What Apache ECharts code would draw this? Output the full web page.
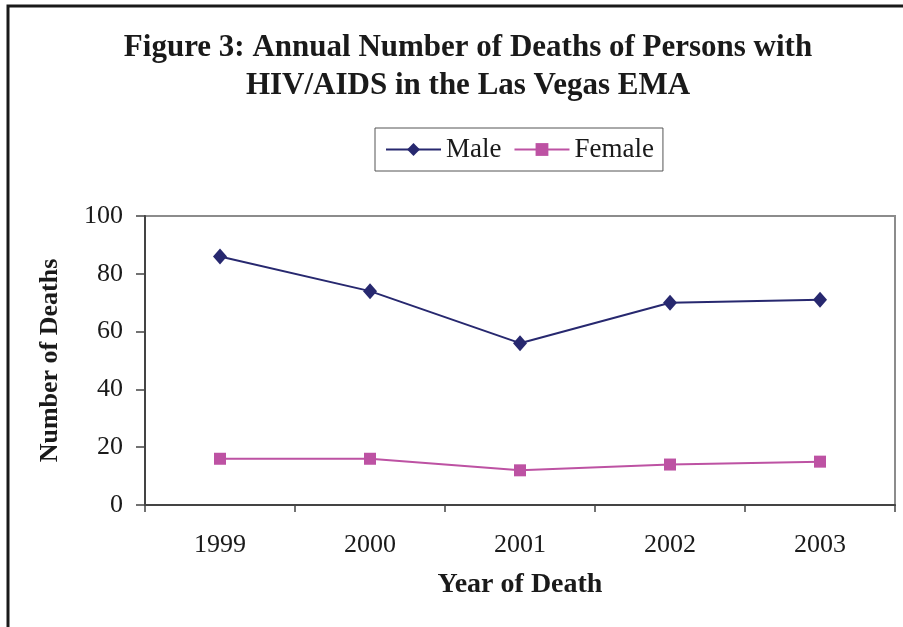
<!DOCTYPE html>
<html>
<head>
<meta charset="utf-8">
<title>Annual Number of Deaths of Persons with HIV/AIDS in the Las Vegas EMA</title>
<script src="https://cdn.jsdelivr.net/npm/echarts@6/dist/echarts.min.js"></script>
<style>
  html, body { margin: 0; padding: 0; background: #ffffff; }
  #chart { width: 903px; height: 627px; }
</style>
</head>
<body>
<div id="chart"></div>
<script>
// Years of death (category axis)
const years = ['1999', '2000', '2001', '2002', '2003'];
// Annual deaths by sex
const maleDeaths = [86, 74, 56, 70, 71];
const femaleDeaths = [16, 16, 12, 14, 15];
// Value axis ticks
const yTicks = [0, 20, 40, 60, 80, 100];

const serif = '"Liberation Serif", "Times New Roman", serif';
const maleColor = '#27286f';
const femaleColor = '#bd52a3';

const chart = echarts.init(document.getElementById('chart'), null, { renderer: 'canvas' });

chart.setOption({
  backgroundColor: '#ffffff',
  animation: false,
  title: {
    text: 'Figure 3: Annual Number of Deaths of Persons with\nHIV/AIDS in the Las Vegas EMA',
    left: 463,
    textAlign: 'center',
    top: 24,
    textStyle: {
      fontFamily: serif,
      fontWeight: 'bold',
      fontSize: 31,
      lineHeight: 38,
      color: '#1a1a1a'
    }
  },
  legend: {
    data: ['Male', 'Female'],
    left: 375,
    top: 128,
    padding: [8, 9, 8, 10],
    borderColor: '#555555',
    borderWidth: 1,
    itemWidth: 55,
    itemHeight: 16,
    itemGap: 12,
    textStyle: { fontFamily: serif, fontSize: 27, color: '#1a1a1a' }
  },
  grid: {
    left: 145,
    right: 8,
    top: 216,
    bottom: 122,
    show: true,
    borderColor: '#8c8c8c',
    borderWidth: 2,
    containLabel: false
  },
  xAxis: {
    type: 'category',
    data: years,
    boundaryGap: true,
    name: 'Year of Death',
    nameLocation: 'middle',
    nameGap: 66,
    nameTextStyle: { fontFamily: serif, fontWeight: 'bold', fontSize: 28, color: '#1a1a1a' },
    axisLine: { lineStyle: { color: '#444444', width: 2 } },
    axisTick: { show: true, interval: 0, length: 7, lineStyle: { color: '#444444', width: 1.5 } },
    axisLabel: { fontFamily: serif, fontSize: 26, color: '#1a1a1a', margin: 27 },
    splitLine: { show: false }
  },
  yAxis: {
    type: 'value',
    min: yTicks[0],
    max: yTicks[yTicks.length - 1],
    interval: 20,
    name: 'Number of Deaths',
    nameLocation: 'middle',
    nameGap: 82,
    nameRotate: 90,
    nameTextStyle: { fontFamily: serif, fontWeight: 'bold', fontSize: 26, color: '#1a1a1a' },
    axisLine: { show: true, lineStyle: { color: '#444444', width: 2 } },
    axisTick: { show: true, length: 9, lineStyle: { color: '#444444', width: 1.5 } },
    axisLabel: { fontFamily: serif, fontSize: 26, color: '#1a1a1a', margin: 22 },
    splitLine: { show: false }
  },
  series: [
    {
      name: 'Male',
      type: 'line',
      data: maleDeaths,
      symbol: 'diamond',
      symbolSize: [14, 16],
      lineStyle: { color: maleColor, width: 2 },
      itemStyle: { color: maleColor },
      z: 3
    },
    {
      name: 'Female',
      type: 'line',
      data: femaleDeaths,
      symbol: 'rect',
      symbolSize: [12, 12],
      lineStyle: { color: femaleColor, width: 2 },
      itemStyle: { color: femaleColor },
      z: 2
    }
  ],
  graphic: [
    {
      // outer frame (left and top edges)
      type: 'polyline',
      shape: { points: [[8, 627], [8, 6], [903, 6]] },
      style: { stroke: '#1a1a1a', lineWidth: 3, fill: null },
      silent: true
    }
  ]
});
</script>
</body>
</html>
